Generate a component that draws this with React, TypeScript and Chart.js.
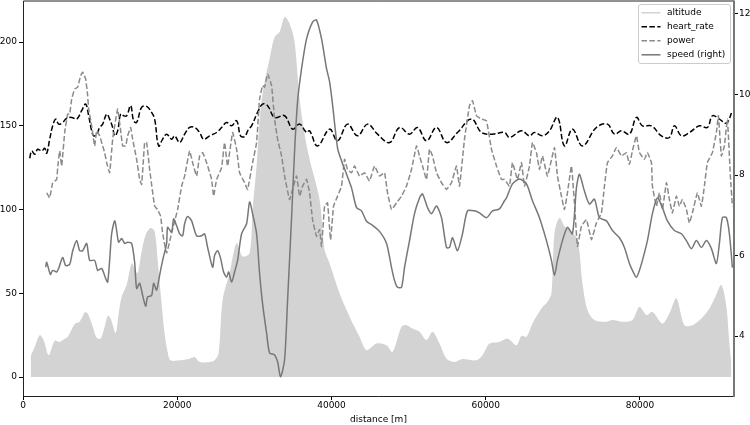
import React, { useEffect, useRef } from 'react';
import { Chart, registerables } from 'chart.js';

Chart.register(...registerables);

// ---------- data (distance in metres) ----------
const altDist = [998, 1516, 2164, 2683, 3331, 4108, 4756, 5145, 5793, 6700, 7348, 7996, 8384, 8903, 9551, 10070, 10588, 10977, 11366, 12014, 12402, 12791, 13440, 14088, 14476, 14865, 15384, 15902, 16550, 17067, 17456, 17845, 18363, 18752, 19141, 20308, 21604, 22252, 22900, 24196, 24844, 25363, 25881, 26788, 27696, 28474, 29381, 29770, 30288, 30800, 31325, 31973, 32621, 33269, 33917, 34565, 35213, 35861, 36509, 37157, 38452, 39101, 39749, 41045, 42341, 43637, 44544, 45840, 47136, 47914, 49080, 49728, 50506, 51413, 52320, 53098, 54005, 54912, 55949, 56986, 58800, 59578, 60485, 61781, 62818, 63985, 64633, 65281, 66058, 67225, 68003, 68521, 68910, 69558, 70206, 70854, 71891, 72539, 73187, 74094, 75650, 76427, 77724, 79020, 79927, 80835, 81612, 82908, 83815, 84722, 85759, 86796, 87962, 88999, 89777, 90554, 91202, 91591, 91850];
const altitude = [12.7, 18, 25, 22, 13, 21.7, 21, 22, 24, 31.7, 33, 38.5, 38, 32, 23.4, 23, 30, 36.5, 35, 26.3, 38, 48, 55, 68, 65, 62, 75, 85, 89, 87, 70, 50, 26, 15, 10, 10, 11, 12, 9, 9, 10, 14, 46, 62, 80, 72, 74, 100, 126, 160, 176, 190, 203, 206, 215, 211, 200, 166, 145, 130, 106, 76, 68, 50, 36, 24, 16, 20, 19, 15, 30, 31, 29, 27, 22, 27, 20, 11, 9, 10.8, 10, 13, 20, 21, 23, 19, 24.5, 24, 32, 41, 45, 50, 86, 95, 90, 88, 82, 56, 40, 34, 33, 34, 33, 34, 42, 37, 39, 32, 38, 47, 31, 31, 35, 41, 48, 55, 42, 20, 8];

const hrDist = [868, 1127, 1516, 1905, 2423, 2812, 3071, 3460, 3849, 4238, 4627, 5145, 5663, 6312, 6960, 7607, 8125, 8514, 8903, 9162, 9551, 9940, 10329, 10847, 11236, 11625, 11884, 12273, 12662, 13050, 13440, 13958, 14347, 14735, 15384, 16031, 16679, 17067, 17586, 18104, 18622, 19271, 19660, 20308, 20956, 21604, 22252, 22900, 23419, 24196, 25103, 25752, 26400, 27048, 27696, 28214, 28733, 29251, 29640, 30418, 31066, 31714, 32621, 33917, 34954, 35861, 36768, 37157, 38193, 39749, 40786, 42082, 43378, 44674, 45970, 47525, 48821, 50117, 51154, 52320, 53616, 54912, 56338, 58152, 59448, 60874, 62429, 63077, 64633, 65670, 66318, 67355, 68262, 69299, 70206, 71243, 72539, 74353, 75779, 76686, 77594, 78631, 79538, 80316, 81483, 82778, 83815, 84463, 85370, 86407, 87703, 88740, 89388, 90295, 91202, 91980];
const heartRate = [130.6, 135, 133, 136, 135, 136.6, 133.6, 142, 150, 154, 151, 152, 154.5, 155, 154, 159, 163, 156, 147, 144, 145, 149, 151, 157, 154, 149, 144, 147, 157, 156, 156, 162, 153, 152, 161, 161.6, 158, 154, 138, 142, 145, 142, 144, 140, 145, 149, 149, 146, 142, 144, 146, 149, 152, 150, 153, 144, 143.6, 148, 150, 158, 163, 162, 155, 156, 148, 151, 146, 147, 138, 148, 141, 151, 144, 151, 145, 140, 149, 145, 149, 141, 149, 140, 146, 154, 146, 145, 146, 143, 147, 144, 146, 144, 147, 155, 138, 148, 138, 149, 151, 145, 147, 145, 155, 150, 150, 144, 143, 150, 144, 146, 150, 149, 156, 154, 151.6, 159];

const powerDist = [3071, 3460, 3849, 4367, 4497, 4756, 5015, 5404, 5793, 6052, 6312, 6700, 7089, 7478, 7737, 8125, 8384, 8514, 8903, 9292, 9551, 9940, 10329, 10588, 10847, 11236, 11625, 11884, 12273, 12662, 12921, 13309, 13569, 13958, 14217, 14735, 15124, 15384, 15772, 16031, 16420, 17067, 17456, 17845, 18104, 18622, 19271, 19660, 20048, 20567, 20956, 21604, 21993, 22511, 22900, 23289, 23807, 24455, 24715, 25103, 25752, 26140, 26529, 27177, 27696, 28085, 28733, 29122, 29770, 30288, 30677, 31066, 31325, 31714, 32232, 32621, 33010, 33528, 33917, 34565, 34954, 35472, 35861, 36250, 36768, 37157, 37546, 38064, 38452, 38712, 39101, 39489, 39878, 40267, 40786, 41304, 41693, 42082, 42600, 42989, 43637, 44285, 44933, 45581, 46229, 46877, 47266, 47784, 48432, 49080, 49728, 50376, 51024, 51413, 51802, 52320, 52709, 53098, 53616, 54264, 54912, 55560, 56208, 56597, 57245, 57893, 58282, 58800, 59448, 60096, 60744, 61392, 62040, 62429, 63077, 63466, 64114, 64633, 65022, 65670, 66058, 66577, 66966, 67355, 68003, 68910, 69299, 69817, 70206, 70595, 71113, 71502, 71891, 72409, 73057, 73705, 74353, 75001, 75390, 75779, 76427, 76946, 77594, 78242, 78631, 79020, 79538, 79927, 80575, 80964, 81483, 81612, 82131, 82519, 82908, 83426, 83815, 84204, 84722, 85111, 85500, 86018, 86407, 86796, 87444, 87962, 88351, 88740, 89388, 89907, 90166, 90554, 90943, 91332, 91721, 91980];
const power = [110, 107, 116, 118, 125, 135, 126, 146, 157, 157, 166, 172, 173, 180, 182, 178, 168, 160, 150, 138, 147, 144, 138, 134, 128, 122, 142, 150, 160, 147, 138, 138, 144, 149, 142, 130, 118, 115, 140, 140, 124, 102, 100, 96, 86, 74, 86, 93, 100, 114, 120, 135, 128, 120, 132, 134, 128, 118, 108, 118, 125, 140, 126, 146, 136, 122, 116, 112, 128, 140, 166, 174, 173, 181, 174, 154, 142, 132, 120, 106, 112, 120, 108, 114, 118, 110, 94, 84, 88, 78, 102, 104, 82, 102, 108, 114, 130, 124, 122, 126, 120, 122, 117, 126, 120, 122, 110, 100, 104, 108, 114, 124, 138, 132, 126, 118, 136, 132, 122, 116, 112, 116, 126, 114, 142, 162, 165, 156, 154, 153, 136, 126, 118, 118, 114, 128, 118, 128, 114, 126, 140, 134, 124, 132, 120, 137, 120, 108, 100, 110, 126, 104, 78, 90, 94, 82, 92, 98, 114, 128, 132, 137, 132, 134, 127, 135, 144, 134, 130, 134, 128, 114, 102, 110, 100, 116, 106, 98, 108, 102, 106, 100, 92, 98, 110, 102, 114, 128, 134, 146, 156, 132, 138, 154, 120, 102];

const speedDist = [2942, 3071, 3551, 3849, 4367, 4627, 5145, 5534, 6052, 6441, 6960, 7348, 7737, 8255, 8644, 9292, 9681, 10199, 10718, 10977, 11236, 11495, 11884, 12143, 12402, 12791, 13180, 13569, 14088, 14476, 14735, 15124, 15513, 15902, 16161, 16679, 16938, 17327, 17715, 18104, 18622, 18752, 19271, 19530, 19919, 20308, 20697, 20956, 21345, 21863, 22511, 23159, 23548, 23937, 24585, 24844, 25233, 25622, 26011, 26400, 26659, 27048, 27436, 27826, 28344, 28992, 29381, 29770, 30288, 30677, 31066, 31585, 31973, 32621, 33010, 33399, 33917, 34306, 34824, 35213, 35602, 36120, 36768, 37546, 38064, 38712, 39360, 39749, 40137, 40786, 41304, 41952, 42600, 43248, 43896, 44544, 45322, 46229, 47136, 47784, 48173, 48562, 49080, 49469, 50117, 50765, 51413, 51802, 52450, 52968, 53616, 54264, 54912, 55301, 55690, 56338, 56986, 57634, 58541, 59189, 60096, 60874, 61781, 62429, 62688, 63466, 64374, 65281, 66058, 66966, 67873, 68521, 68910, 69299, 69947, 70595, 71243, 71761, 72150, 72798, 73446, 74094, 74742, 75650, 76427, 77335, 77983, 78631, 79020, 79538, 79927, 80316, 80964, 81612, 82260, 82908, 83556, 84463, 85370, 86018, 86666, 87314, 87962, 88610, 89258, 89907, 90295, 90684, 91202, 91591, 91980];
const speed = [5.71, 5.83, 5.53, 5.63, 5.59, 5.68, 5.95, 5.75, 5.78, 6.11, 6.37, 6.12, 6.12, 6.30, 5.88, 5.88, 5.63, 5.68, 5.43, 5.34, 5.88, 6.54, 6.86, 6.62, 6.33, 6.42, 6.30, 6.33, 6.30, 5.83, 5.18, 5.31, 5.01, 4.74, 4.97, 5.01, 5.31, 5.14, 5.51, 5.88, 6.30, 6.70, 6.58, 6.91, 6.74, 6.54, 6.49, 6.79, 6.97, 6.86, 6.49, 6.49, 6.54, 6.20, 5.71, 6.0, 6.12, 5.93, 5.59, 5.46, 5.59, 5.34, 5.59, 5.88, 6.54, 6.79, 7.33, 7.04, 6.54, 5.55, 4.80, 4.07, 3.58, 3.53, 3.36, 2.99, 3.41, 4.89, 6.94, 8.59, 9.83, 10.64, 11.38, 11.80, 11.85, 11.38, 10.64, 10.32, 9.75, 8.67, 8.35, 8.02, 7.68, 7.19, 7.11, 6.85, 6.75, 6.6, 6.3, 5.70, 5.38, 5.21, 5.21, 5.70, 6.37, 7.04, 7.43, 7.53, 7.19, 7.04, 7.23, 6.94, 6.20, 6.20, 6.44, 6.12, 6.54, 7.11, 7.11, 7.06, 6.94, 7.11, 7.16, 7.36, 7.43, 7.78, 7.90, 7.78, 7.36, 6.94, 6.37, 5.88, 5.51, 5.88, 6.37, 6.70, 6.54, 7.68, 8.02, 7.60, 7.28, 7.40, 6.94, 6.86, 6.62, 6.44, 6.20, 5.80, 5.63, 5.46, 5.63, 5.88, 6.37, 7.04, 7.43, 7.19, 6.86, 6.62, 6.54, 6.37, 6.17, 6.37, 6.20, 6.37, 6.17, 5.80, 6.30, 6.94, 6.94, 6.54, 5.70];

const xTicks = [0, 20000, 40000, 60000, 80000];
const yTicks = [0, 50, 100, 150, 200];
const y2Ticks = [4, 6, 8, 10, 12];
const seriesLabels = ['altitude', 'heart_rate', 'power', 'speed (right)'];
const xTitle = 'distance [m]';

const zip = (xs: number[], ys: number[]) => xs.map((x, i) => ({ x, y: ys[i] }));

const FONT = '"DejaVu Sans", Verdana, sans-serif';

const framePlugin = {
  id: 'frame',
  afterDatasetsDraw(chart: any) {
    const { ctx, chartArea: a } = chart;
    ctx.save();
    ctx.strokeStyle = '#222';
    ctx.lineWidth = 1;
    ctx.beginPath();
    ctx.moveTo(a.right, a.top + 0.5);
    ctx.lineTo(a.left + 0.5, a.top + 0.5);
    ctx.lineTo(a.left + 0.5, a.bottom + 0.5);
    ctx.lineTo(a.right, a.bottom + 0.5);
    ctx.stroke();
    ctx.strokeStyle = '#777';
    ctx.lineWidth = 2;
    ctx.beginPath();
    ctx.moveTo(a.right, a.top);
    ctx.lineTo(a.right, a.bottom + 1);
    ctx.stroke();
    ctx.restore();
  },
  afterDraw(chart: any) {
    const { ctx, chartArea: a } = chart;
    const ds = chart.data.datasets;
    const w = 92, h = 59;
    const x0 = a.right - 4 - w + 0.5;
    const y0 = a.top + 4;
    ctx.save();
    ctx.beginPath();
    const r = 2.5;
    ctx.moveTo(x0 + r, y0);
    ctx.lineTo(x0 + w - r, y0);
    ctx.quadraticCurveTo(x0 + w, y0, x0 + w, y0 + r);
    ctx.lineTo(x0 + w, y0 + h - r);
    ctx.quadraticCurveTo(x0 + w, y0 + h, x0 + w - r, y0 + h);
    ctx.lineTo(x0 + r, y0 + h);
    ctx.quadraticCurveTo(x0, y0 + h, x0, y0 + h - r);
    ctx.lineTo(x0, y0 + r);
    ctx.quadraticCurveTo(x0, y0, x0 + r, y0);
    ctx.closePath();
    ctx.fillStyle = 'rgba(255,255,255,0.8)';
    ctx.fill();
    ctx.strokeStyle = '#cccccc';
    ctx.lineWidth = 1;
    ctx.stroke();
    ds.forEach((d: any, i: number) => {
      const y = y0 + 8.3 + i * 14;
      ctx.beginPath();
      ctx.setLineDash(d.legendDash || []);
      ctx.strokeStyle = d.legendColor;
      ctx.lineWidth = 1.5;
      ctx.moveTo(x0 + 3, y);
      ctx.lineTo(x0 + 22, y);
      ctx.stroke();
      ctx.setLineDash([]);
      ctx.fillStyle = '#000';
      ctx.font = `9px ${FONT}`;
      ctx.textBaseline = 'middle';
      ctx.textAlign = 'left';
      ctx.fillText(d.label, x0 + 28.5, y);
    });
    ctx.restore();
  },
};

export default function App() {
  const ref = useRef<HTMLCanvasElement | null>(null);
  useEffect(() => {
    document.body.style.margin = '0';
    if (!ref.current) return;
    const setTicks = (vals: number[]) => (scale: any) => {
      scale.ticks = vals.map((v) => ({ value: v }));
    };
    const fitV = (w: number) => (s: any) => {
      s.width = w;
      s.paddingTop = 0;
      s.paddingBottom = 0;
    };
    const chart = new Chart(ref.current, {
      type: 'line',
      data: {
        datasets: [
          {
            label: seriesLabels[0],
            data: zip(altDist, altitude),
            yAxisID: 'y',
            fill: 'origin',
            backgroundColor: '#d3d3d3',
            borderColor: '#d3d3d3',
            borderWidth: 0,
            pointRadius: 0,
            tension: 0.3,
            order: 4,
            legendColor: '#d3d3d3',
          } as any,
          {
            label: seriesLabels[1],
            data: zip(hrDist, heartRate),
            yAxisID: 'y',
            borderColor: '#000',
            borderWidth: 1.5,
            borderDash: [5.5, 2.4],
            pointRadius: 0,
            tension: 0.4,
            fill: false,
            order: 3,
            legendColor: '#000',
            legendDash: [5.5, 2.4],
          } as any,
          {
            label: seriesLabels[2],
            data: zip(powerDist, power),
            yAxisID: 'y',
            borderColor: '#8a8a8a',
            borderWidth: 1.5,
            borderDash: [5.5, 2.4],
            pointRadius: 0,
            tension: 0.1,
            fill: false,
            order: 2,
            legendColor: '#8a8a8a',
            legendDash: [5.5, 2.4],
          } as any,
          {
            label: seriesLabels[3],
            data: zip(speedDist, speed),
            yAxisID: 'y2',
            borderColor: '#777',
            borderWidth: 1.5,
            pointRadius: 0,
            tension: 0.25,
            fill: false,
            order: 1,
            legendColor: '#777',
          } as any,
        ],
      },
      options: {
        animation: false,
        responsive: false,
        layout: { padding: { top: 0.5, left: 0, right: 0, bottom: 0 } },
        plugins: { legend: { display: false }, tooltip: { enabled: false } },
        font: { family: FONT, size: 9 },
        scales: {
          x: {
            type: 'linear',
            min: 0,
            max: 92190,
            afterBuildTicks: setTicks(xTicks),
            afterFit: (s: any) => { s.height = 29; s.paddingLeft = 0; s.paddingRight = 0; },
            ticks: { color: '#000', font: { family: FONT, size: 9 }, padding: 0, maxRotation: 0, autoSkip: false, callback: (v: any) => String(v) },
            grid: { drawOnChartArea: false, drawTicks: true, tickLength: 4, color: '#000', lineWidth: 1 },
            border: { display: false },
            title: { display: true, text: xTitle, color: '#000', font: { family: FONT, size: 9 }, padding: { top: 0, bottom: 0 } },
          },
          y: {
            type: 'linear',
            position: 'left',
            min: -11.3,
            max: 224.8,
            afterBuildTicks: setTicks(yTicks),
            afterFit: fitV(23),
            ticks: { color: '#000', font: { family: FONT, size: 9 }, padding: 2, autoSkip: false, callback: (v: any) => String(v) },
            grid: { drawOnChartArea: false, drawTicks: true, tickLength: 4, color: '#000', lineWidth: 1 },
            border: { display: false },
          },
          y2: {
            type: 'linear',
            position: 'right',
            min: 2.51,
            max: 12.335,
            afterBuildTicks: setTicks(y2Ticks),
            afterFit: fitV(16),
            ticks: { color: '#000', font: { family: FONT, size: 9 }, padding: 1, autoSkip: false, callback: (v: any) => String(v) },
            grid: { drawOnChartArea: false, drawTicks: true, tickLength: 4, color: '#000', lineWidth: 1 },
            border: { display: false },
          },
        },
      } as any,
      plugins: [framePlugin],
    });
    return () => chart.destroy();
  }, []);
  return (
    <div style={{ position: 'absolute', left: 0, top: 0, width: 750, height: 425, background: '#fff' }}>
      <canvas ref={ref} width={750} height={425} style={{ width: 750, height: 425 }} />
    </div>
  );
}
